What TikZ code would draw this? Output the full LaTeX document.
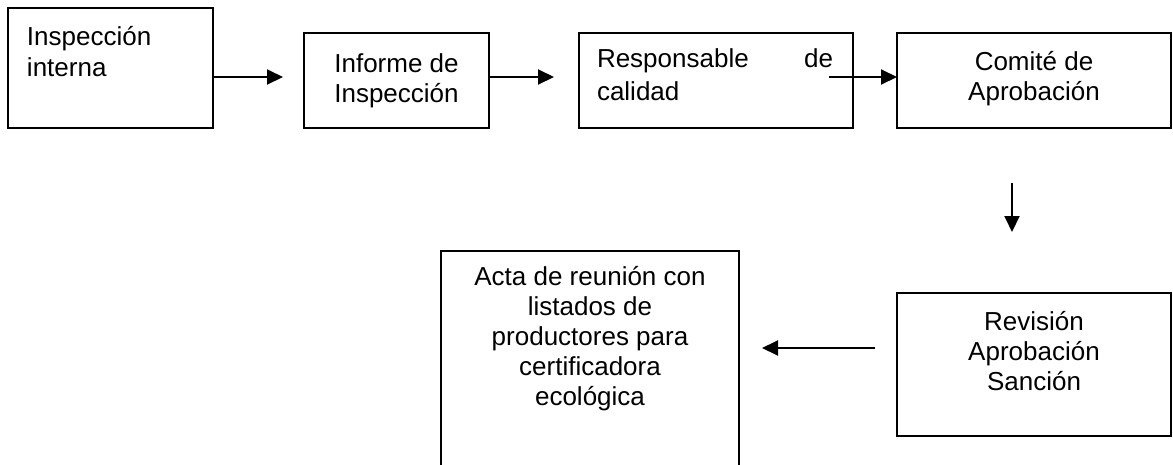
\documentclass[tikz,border=0pt]{standalone}
\usepackage{fontspec}
\setmainfont{Liberation Sans}
\usetikzlibrary{arrows.meta}
\tikzset{
  box/.style={draw=black, line width=2pt, rectangle, inner sep=0pt, outer sep=0pt},
  txt/.style={inner sep=0pt, outer sep=0pt, font=\fontsize{26pt}{30pt}\selectfont, anchor=base},
  arr/.style={line width=2pt, -{Triangle[length=16pt,width=15pt]}}
}
\begin{document}
\begin{tikzpicture}[x=1pt,y=-1pt]
\useasboundingbox (0,0) rectangle (1173,464);
\clip (0,0) rectangle (1173,464);
% boxes
\node[box, minimum width=205pt, minimum height=120pt] (b1) at (110.5,68) {};
\node[box, minimum width=185pt, minimum height=95pt] (b2) at (396.5,80.5) {};
\node[box, minimum width=274pt, minimum height=95pt] (b3) at (716,80.5) {};
\node[box, minimum width=274pt, minimum height=95pt] (b4) at (1034,80.5) {};
\node[box, minimum width=274pt, minimum height=143pt] (b5) at (1034,364.5) {};
\node[box, minimum width=298pt, minimum height=240pt] (b6) at (590,371) {};
% texts (anchor base = baseline of last line)
\node[txt, anchor=base west, align=left, font=\fontsize{26pt}{31pt}\selectfont] (t1) at (27,76) {Inspección\\interna};
\node[txt, align=center] (t2) at (396.5,102) {Informe de\\Inspección};
\node[txt, anchor=base west, text width=236pt, align=left, font=\fontsize{26pt}{33pt}\selectfont] (t3) at (597,67) {Responsable\hfill de\\calidad};
\node[txt, align=center] (t4) at (1034,100) {Comité de\\Aprobación};
\node[txt, align=center] (t5) at (1034,390) {Revisión\\Aprobación\\Sanción};
\node[txt, align=center] (t6) at (590,405) {Acta de reunión con\\listados de\\productores para\\certificadora\\ecológica};
% arrow ends
\coordinate (e1) at (283,77);
\coordinate (e2) at (554,77);
\coordinate (s3) at (829,77);
\coordinate (s4) at (1012,183);
\coordinate (e4) at (1012,232);
\coordinate (s5) at (875,348);
\coordinate (e5) at (762,348);
% connectors
\draw[arr] (b1.east |- e1) -- (e1);
\draw[arr] (b2.east |- e2) -- (e2);
\draw[arr] (s3) -- (b4.west |- s3);
\draw[arr] (s4) -- (e4);
\draw[arr] (s5) -- (e5);
\end{tikzpicture}
\end{document}
